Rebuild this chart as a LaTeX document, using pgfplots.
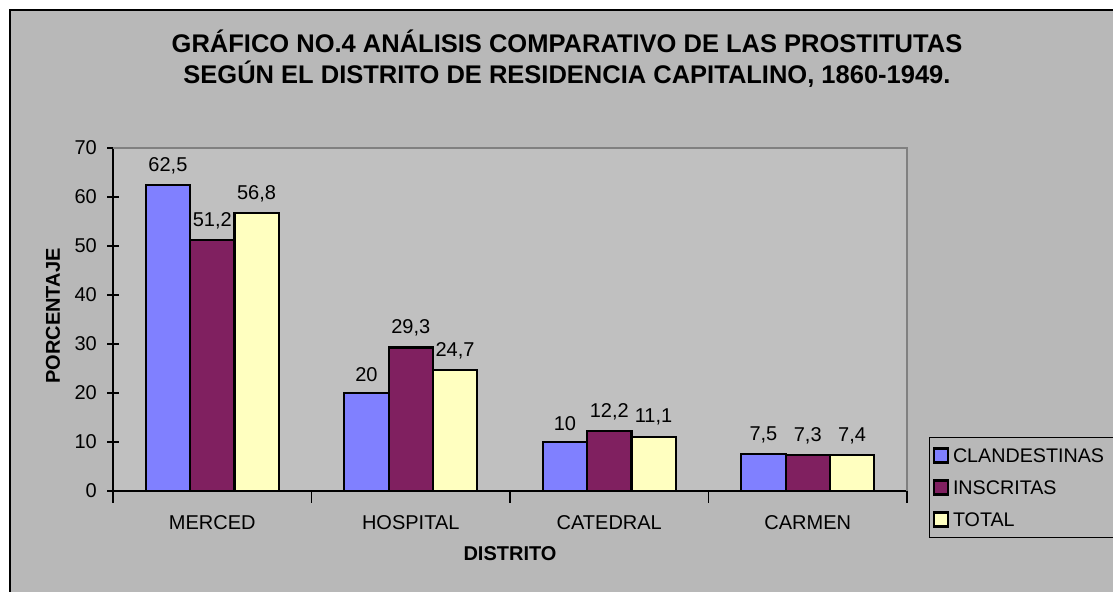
\documentclass[border=0pt]{standalone}
\usepackage{pgfplots}
\pgfplotsset{compat=1.18}
\usepackage{fontspec}
\setmainfont{Liberation Sans}
\definecolor{outerbg}{HTML}{B8B8B8}
\definecolor{plotbg}{HTML}{C0C0C0}
\definecolor{framegray}{HTML}{808080}
\definecolor{cblue}{HTML}{8080FF}
\definecolor{cmaroon}{HTML}{802060}
\definecolor{cyellow}{HTML}{FFFFC0}
\begin{document}
\begin{tikzpicture}[x=1bp,y=1bp]
\path[use as bounding box] (0,0) rectangle (1113,592);
\fill[white] (0,0) rectangle (1113,592);
\begin{scope}
\clip (0,0) rectangle (1113,592);
\filldraw[fill=outerbg, draw=black, line width=2bp] (10,-10) rectangle (1130,582);
\end{scope}
\node[anchor=base, font=\bfseries\fontsize{25.5bp}{29bp}\selectfont] at (567,539.5) {GRÁFICO NO.4 ANÁLISIS COMPARATIVO DE LAS PROSTITUTAS};
\node[anchor=base, font=\bfseries\fontsize{25.5bp}{29bp}\selectfont] at (567,508.7) {SEGÚN EL DISTRITO DE RESIDENCIA CAPITALINO, 1860-1949.};
\begin{axis}[
  at={(113bp,101bp)}, anchor=south west,
  scale only axis, width=794bp, height=343bp,
  xmin=-0.5, xmax=3.5, ymin=0, ymax=70,
  ytick={0,10,...,70},
  xtick={-0.5,0.5,1.5,2.5,3.5},
  x tick label as interval,
  xticklabels={MERCED,HOSPITAL,CATEDRAL,CARMEN},
  axis x line*=bottom, axis y line*=left,
  axis line style={black, line width=1.5bp},
  tick style={black, line width=1.2bp},
  tick align=center, major tick length=12bp,
  axis background/.style={fill=plotbg},
  clip=false,
  ybar=0pt, bar width=44.3bp,
  every axis plot/.append style={draw=black, line width=2.2bp},
  nodes near coords,
  every node near coord/.append style={font=\fontsize{20bp}{24bp}\selectfont, inner sep=0pt, anchor=south, yshift=10bp},
  /pgf/number format/use comma,
  /pgf/number format/assume math mode=true,
  ticklabel style={font=\fontsize{20bp}{24bp}\selectfont},
  xticklabel style={inner sep=0pt, yshift=-12bp},
  yticklabel style={inner sep=0pt, xshift=-10bp},
  xlabel={\bfseries DISTRITO},
  ylabel={\bfseries PORCENTAJE},
  label style={font=\fontsize{20bp}{24bp}\selectfont},
  xlabel style={at={(axis description cs:0.5,-0.1837)}, anchor=center},
  ylabel style={at={(axis description cs:-0.0756,0.510)}, anchor=center},
  legend style={at={(axis description cs:1.0277,0.1574)}, anchor=north west,
    draw=black, line width=1bp, fill=outerbg,
    font=\fontsize{19.7bp}{23bp}\selectfont, row sep=14bp, column sep=2bp,
    inner xsep=3bp, inner ysep=9bp,
    nodes={inner sep=2bp, text height=14bp, text depth=0bp}},
  legend cell align=left,
  legend image code/.code={\draw[line width=2.5bp, draw=black] (0bp,-7bp) rectangle (14bp,7bp);},
]
\addplot[fill=cblue] coordinates {(0,62.5) (1,20) (2,10) (3,7.5)};
\addplot[fill=cmaroon] coordinates {(0,51.2) (1,29.3) (2,12.2) (3,7.3)};
\addplot[fill=cyellow] coordinates {(0,56.8) (1,24.7) (2,11.1) (3,7.4)};
\legend{\makebox[170bp][l]{CLANDESTINAS},INSCRITAS,TOTAL}
\draw[framegray, line width=2bp] (rel axis cs:0,1) -- (rel axis cs:1,1) -- (rel axis cs:1,0);
\end{axis}
\end{tikzpicture}
\end{document}
